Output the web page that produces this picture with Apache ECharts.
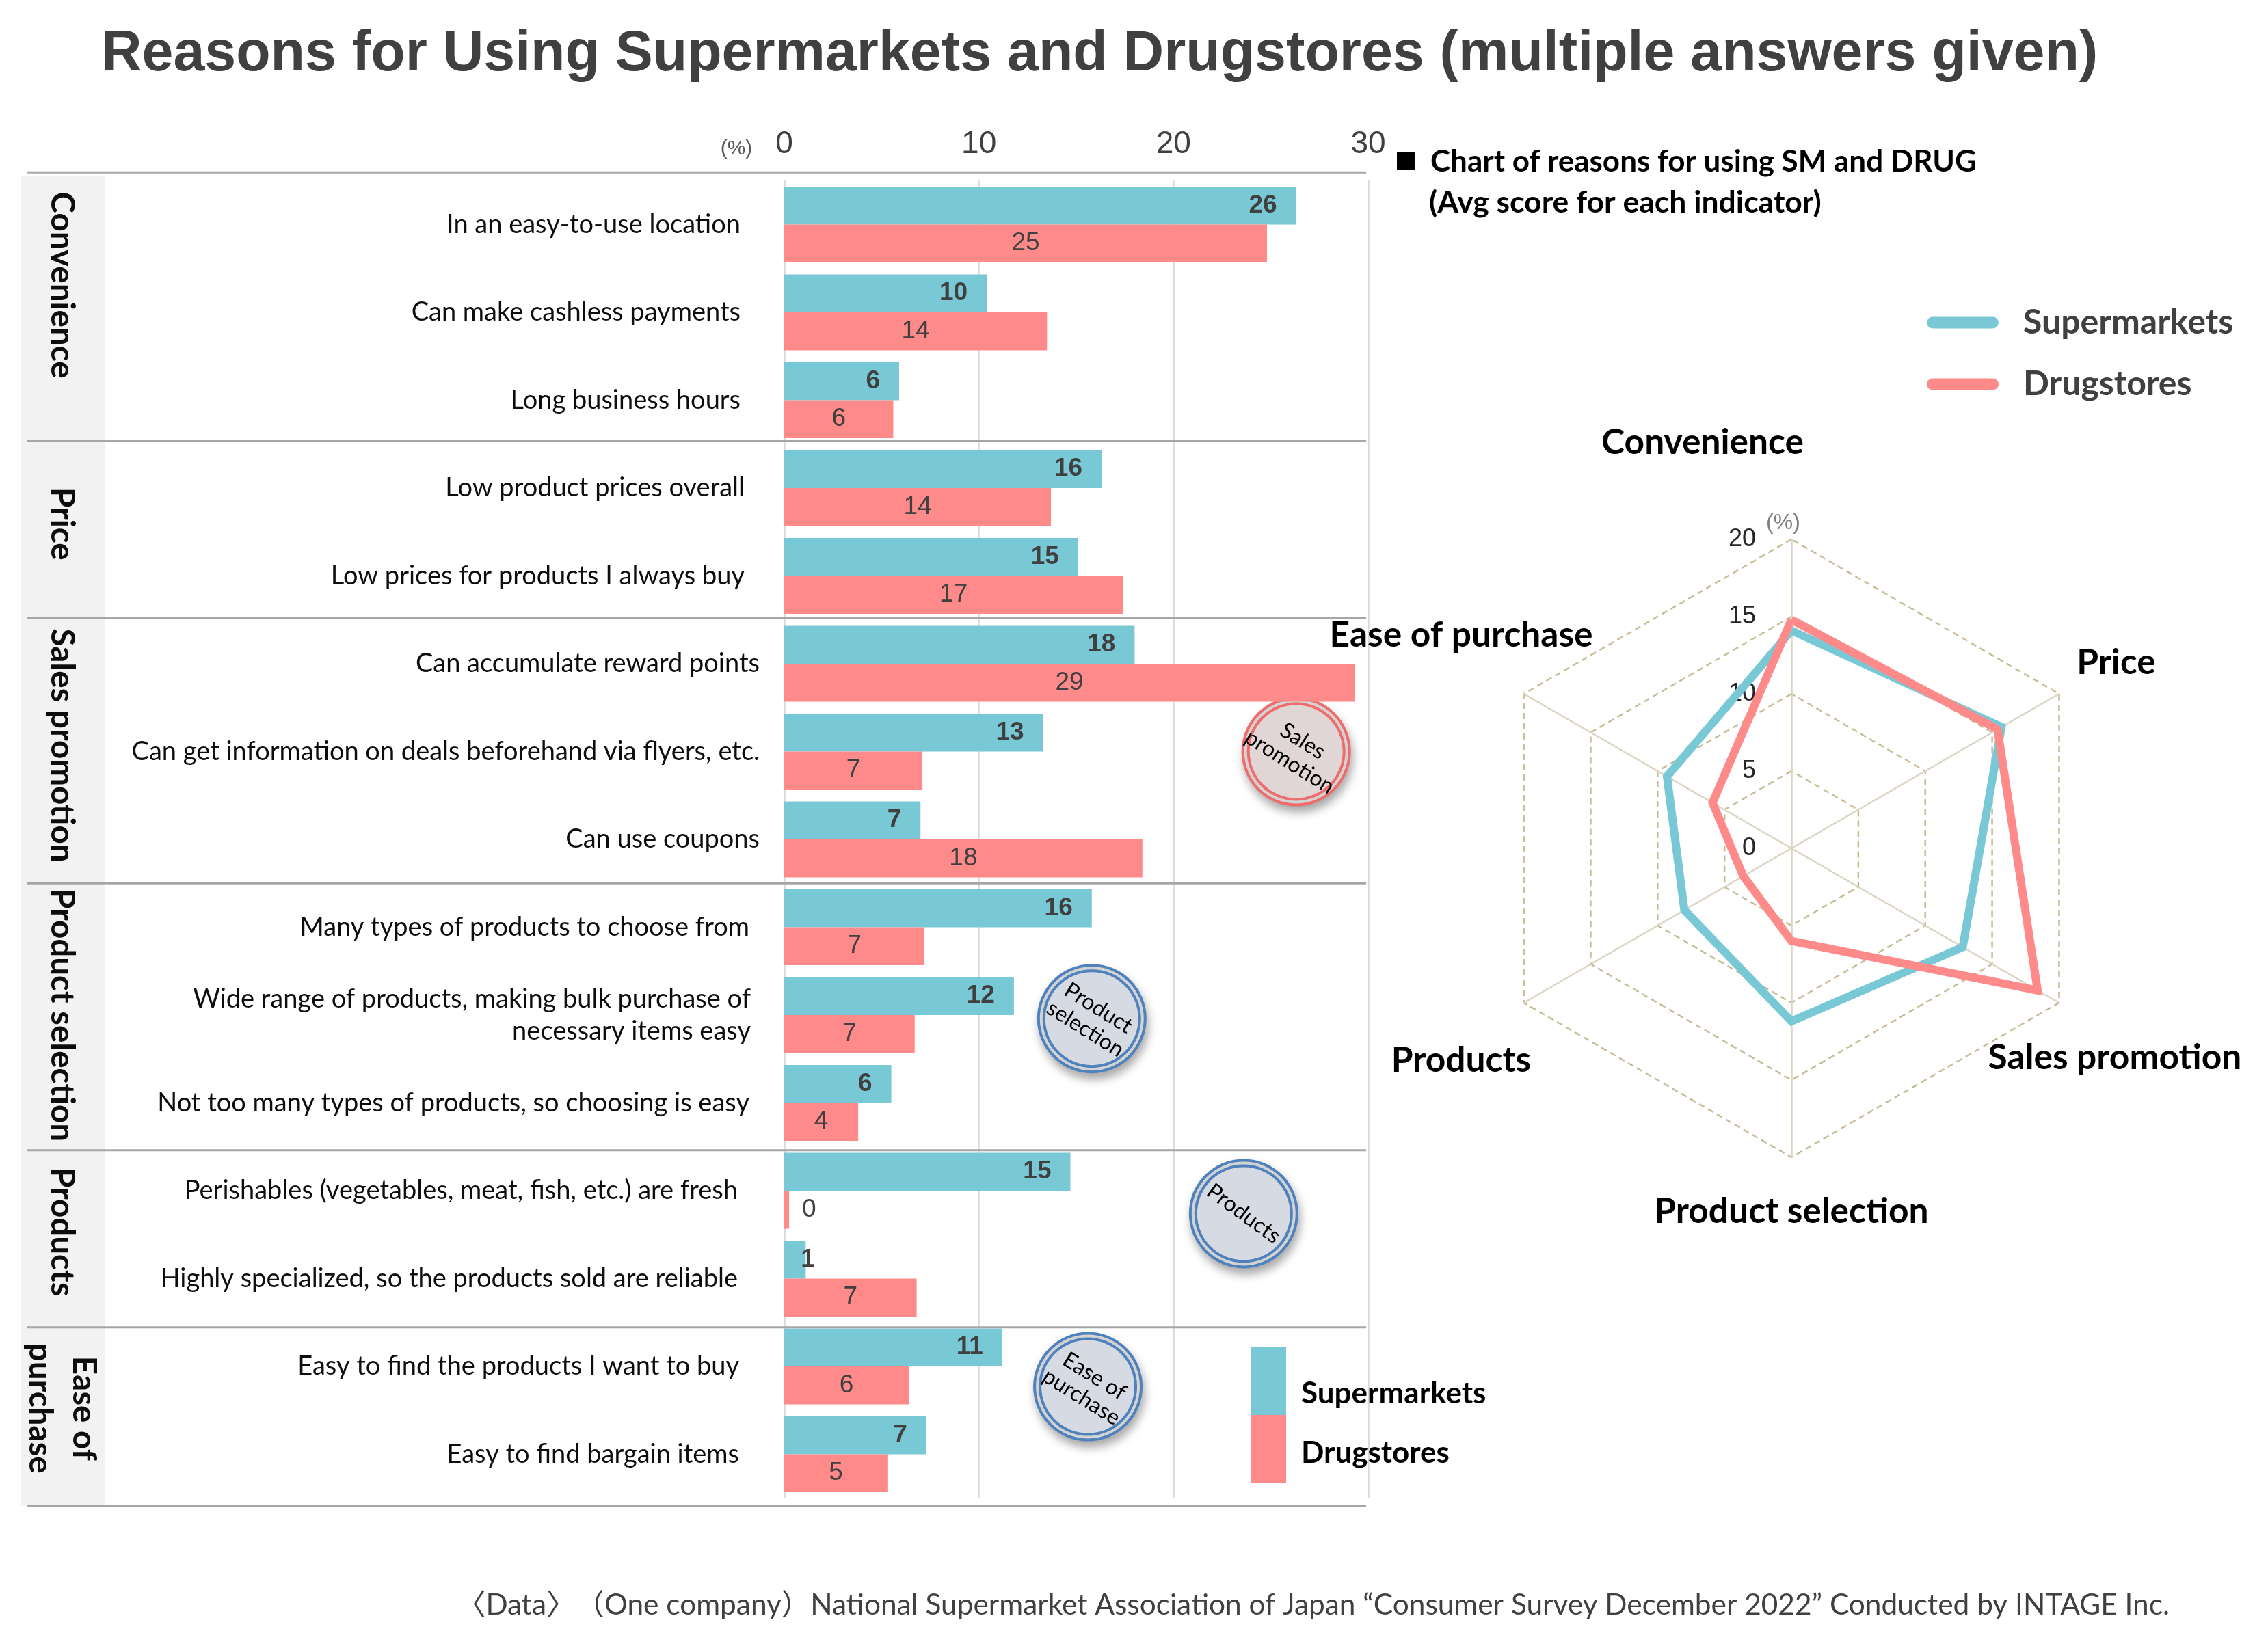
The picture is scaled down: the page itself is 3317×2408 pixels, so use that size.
<!DOCTYPE html>
<html>
<head>
<meta charset="utf-8">
<script src="https://cdn.jsdelivr.net/npm/echarts@6/dist/echarts.min.js"></script>
<style>html,body{margin:0;padding:0;background:#fff}#c{width:3317px;height:2408px}</style>
</head>
<body>
<div id="c"></div>
<script>
// ---------------- data ----------------
const categories = [
  'In an easy-to-use location',
  'Can make cashless payments',
  'Long business hours',
  'Low product prices overall',
  'Low prices for products I always buy',
  'Can accumulate reward points',
  'Can get information on deals beforehand via flyers, etc.',
  'Can use coupons',
  'Many types of products to choose from',
  'Wide range of products, making bulk purchase of\nnecessary items easy',
  'Not too many types of products, so choosing is easy',
  'Perishables (vegetables, meat, fish, etc.) are fresh',
  'Highly specialized, so the products sold are reliable',
  'Easy to find the products I want to buy',
  'Easy to find bargain items'
];
const groupNames = ['Convenience', 'Price', 'Sales promotion', 'Product selection', 'Products', 'Ease of\npurchase'];
const groupSizes = [3, 2, 3, 3, 2, 2];
const seriesNames = ['Supermarkets', 'Drugstores'];
const smValues   = [26.3, 10.4, 5.9, 16.3, 15.1, 18.0, 13.3, 7.0, 15.8, 11.8, 5.5, 14.7, 1.1, 11.2, 7.3];
const drugValues = [24.8, 13.5, 5.6, 13.7, 17.4, 29.3, 7.1, 18.4, 7.2, 6.7, 3.8, 0.25, 6.8, 6.4, 5.3];
const xAxisMax = 30, xAxisStep = 10;

const radarNames = ['Convenience', 'Price', 'Sales promotion', 'Product selection', 'Products', 'Ease of purchase'];
const radarSM   = [14.1, 15.7, 12.8, 11.2, 8.0, 9.3];
const radarDrug = [14.8, 15.4, 18.4, 6.0, 3.6, 5.9];
const radarMax = 20, radarSplits = 4;

const badgeTexts = ['Sales\npromotion', 'Product\nselection', 'Products', 'Ease of\npurchase'];

const titleText = 'Reasons for Using Supermarkets and Drugstores (multiple answers given)';
const radarTitle1 = 'Chart of reasons for using SM and DRUG';
const radarTitle2 = '(Avg score for each indicator)';
const sourceText = '〈Data〉　（One company）National Supermarket Association of Japan “Consumer Survey December 2022” Conducted by INTAGE Inc.';

// ---------------- style ----------------
const C_SM = '#78C8D6', C_DR = '#FF8A8A';
const LATO = "Lato, 'Noto Sans CJK JP', 'Noto Sans', sans-serif";
const ARIAL = "'Liberation Sans', Arial, sans-serif";
const NARROW = "'Liberation Sans Narrow', 'Liberation Sans', Arial, sans-serif";
const catPadRight = [28, 28, 28, 22, 22, 0, 0, 0, 15, 13, 15, 32, 32, 30, 30];
const sepAdjust = [-12, -5, -3, 0, 5, 7, 11];
const groupLabelShift = [-40, -12, -9, 0, -4, -3];
const RC = [2620, 1241], RR = 452;            // radar centre & radius
// radar name offsets from centre
const radarNameOff = [[-130, -594], [475, -272], [473, 306], [0, 531], [-483, 310], [-483, -312]];
// badges: [x value, category position, ring colour, fill, rotation deg]
const badgeStyle = [
  [26.3, 6.0, '#F06B6B', '#E0D6D6', -32],
  [15.8, 9.04, '#4F81BD', '#D5DAE3', -32],
  [23.6, 11.26, '#4F81BD', '#D5DAE3', -36],
  [15.6, 13.23, '#4F81BD', '#D5DAE3', -32]
];
// ECharts radar goes counter-clockwise; reorder so visual order is clockwise
const radarOrder = [0, 5, 4, 3, 2, 1];

const chart = echarts.init(document.getElementById('c'), null, {renderer: 'canvas', width: 3317, height: 2408});

function smLabel(v) {
  return v < 2 ? {position: 'right', distance: -7} : {};
}
function drLabel(v) {
  return v < 1 ? {position: 'right', distance: 19} : {};
}

const option = {
  backgroundColor: '#fff',
  animation: false,
  title: [{
    text: titleText, left: 148, top: 39, padding: 0,
    textStyle: {fontFamily: ARIAL, fontSize: 82.5, fontWeight: 'bold', color: '#404040'}
  }],
  legend: [{
    data: seriesNames, orient: 'vertical', left: 1825, top: 1966,
    itemWidth: 51, itemHeight: 99, itemGap: 0, icon: 'rect', selectedMode: false,
    formatter: name => (name === seriesNames[0] ? '{g1| }' : '{g2| }') + '\n' + name,
    textStyle: {fontFamily: LATO, fontSize: 44, fontWeight: 'bold', color: '#000', lineHeight: 46, padding: [0, 0, 0, 17],
      rich: {g1: {fontSize: 2, lineHeight: 36}, g2: {fontSize: 2, lineHeight: 12}}}
  }, {
    data: seriesNames, orient: 'vertical', left: 2813, top: 442,
    itemWidth: 105, itemHeight: 17, itemGap: 40, selectedMode: false,
    icon: 'path://M8.5,0 L96.5,0 A8.5,8.5 0 0 1 96.5,17 L8.5,17 A8.5,8.5 0 0 1 8.5,0 Z',
    textStyle: {fontFamily: LATO, fontSize: 50, fontWeight: 'bold', color: '#404040', lineHeight: 50, padding: [0, 0, 0, 31]}
  }],
  grid: {left: 1147, right: 1316, top: 264.25, bottom: 216.25, containLabel: false, outerBoundsMode: 'none'},
  xAxis: {
    type: 'value', position: 'top', min: 0, max: xAxisMax, interval: xAxisStep,
    axisLine: {show: false}, axisTick: {show: false},
    axisLabel: {margin: 30, fontSize: 46, color: '#404040', fontFamily: NARROW},
    splitLine: {show: true, lineStyle: {color: '#D9D9D9', width: 2.5}}
  },
  yAxis: {
    type: 'category', inverse: true,
    data: categories.map((c, i) => ({value: c, textStyle: {padding: [0, catPadRight[i], 0, 0]}})),
    axisLine: {show: false}, axisTick: {show: false}, splitLine: {show: false},
    axisLabel: {interval: 0, margin: 36, fontSize: 38, color: '#0D0D0D', fontFamily: LATO, lineHeight: 47}
  },
  radar: {
    center: RC, radius: RR, startAngle: 90, splitNumber: radarSplits, shape: 'polygon',
    indicator: radarOrder.map((k, j) => Object.assign({name: radarNames[k], min: 0, max: radarMax},
      j === 0 ? {axisLabel: {show: true}} : {})),
    axisName: {show: false},
    axisLine: {lineStyle: {color: '#DAD4C0', width: 2.5}},
    axisTick: {show: false},
    splitLine: {lineStyle: {color: '#C6BA92', width: 2.5, type: [9, 6]}},
    splitArea: {show: false},
    axisLabel: {show: false, margin: 52, fontSize: 36, color: '#262626', fontFamily: NARROW}
  },
  series: [{
    name: seriesNames[0], type: 'bar', barGap: 0, barCategoryGap: '13.62%',
    itemStyle: {color: C_SM},
    data: smValues.map(v => ({value: v, label: smLabel(v)})),
    label: {show: true, position: 'insideRight', distance: 28, formatter: p => Math.round(p.value),
      fontFamily: ARIAL, fontSize: 37, fontWeight: 'bold', color: '#404040'}
  }, {
    name: seriesNames[1], type: 'bar',
    itemStyle: {color: C_DR},
    data: drugValues.map(v => ({value: v, label: drLabel(v)})),
    label: {show: true, position: 'inside', formatter: p => Math.round(p.value),
      fontFamily: ARIAL, fontSize: 37, fontWeight: 'normal', color: '#404040'}
  }, {
    type: 'radar', symbol: 'none', z: 3,
    data: [
      {name: seriesNames[0], value: radarOrder.map(k => radarSM[k]),
       lineStyle: {color: C_SM, width: 12, join: 'miter'}, itemStyle: {color: C_SM}},
      {name: seriesNames[1], value: radarOrder.map(k => radarDrug[k]),
       lineStyle: {color: C_DR, width: 12, join: 'miter'}, itemStyle: {color: C_DR}}
    ]
  }]
};
chart.setOption(option);

// ---------------- decorations computed from the axes ----------------
const yc = i => chart.convertToPixel({yAxisIndex: 0}, i);
const xp = v => chart.convertToPixel({xAxisIndex: 0}, v);
const y0 = yc(0), band = yc(1) - yc(0);
const edgeY = k => y0 + (k - 0.5) * band;
const edges = [0];
groupSizes.forEach(s => edges.push(edges[edges.length - 1] + s));
const sepY = edges.map((k, g) => edgeY(k) + sepAdjust[g]);

const g = [];
// grey band behind group names
g.push({type: 'rect', shape: {x: 30, y: sepY[0] + 6, width: 123, height: sepY[sepY.length - 1] - sepY[0] - 6},
  style: {fill: '#F2F2F2'}, z: 0, silent: true});
// separators
sepY.forEach(y => g.push({type: 'line', shape: {x1: 40, y1: y, x2: 1998, y2: y},
  style: {stroke: '#A6A6A6', lineWidth: 3}, z: 5, silent: true}));
// group names (rotated)
groupNames.forEach((name, i) => {
  const cy = (edgeY(edges[i]) + edgeY(edges[i + 1])) / 2 + groupLabelShift[i];
  g.push({type: 'text', x: 90, y: cy, rotation: -Math.PI / 2, z: 6, silent: true,
    style: {text: name, fill: '#0D0D0D', font: 'bold 47.5px ' + LATO, align: 'center', verticalAlign: 'middle', lineHeight: 64}});
});
// badges
badgeStyle.forEach((b, i) => {
  const cx = xp(b[0]), cy = y0 + b[1] * band;
  g.push({type: 'group', x: cx, y: cy, z: 10, silent: true, children: [
    {type: 'circle', shape: {cx: 0, cy: 0, r: 80}, style: {fill: b[2], shadowBlur: 14, shadowOffsetX: 3, shadowOffsetY: 9, shadowColor: 'rgba(0,0,0,0.35)'}},
    {type: 'circle', shape: {cx: 0, cy: 0, r: 76}, style: {fill: '#D3D3D3'}},
    {type: 'circle', shape: {cx: 0, cy: 0, r: 72}, style: {fill: b[2]}},
    {type: 'circle', shape: {cx: 0, cy: 0, r: 68}, style: {fill: b[3]}},
    {type: 'text', x: 0, y: 0, rotation: b[4] * Math.PI / 180,
     style: {text: badgeTexts[i], fill: '#000', font: '32px ' + LATO, align: 'center', verticalAlign: 'middle', lineHeight: 36}}
  ]});
});
// bar-axis unit
g.push({type: 'text', x: 1077, y: 218, silent: true,
  style: {text: '(%)', fill: '#595959', font: '30px ' + NARROW, align: 'center', verticalAlign: 'middle'}});
// radar names
radarNames.forEach((n, i) => {
  g.push({type: 'text', x: RC[0] + radarNameOff[i][0], y: RC[1] + radarNameOff[i][1], silent: true,
    style: {text: n, fill: '#000', font: 'bold 51.5px ' + LATO, align: 'center', verticalAlign: 'middle'}});
});
g.push({type: 'text', x: RC[0] - 12, y: RC[1] - 476, silent: true,
  style: {text: '(%)', fill: '#808080', font: '32px ' + NARROW, align: 'center', verticalAlign: 'middle'}});
// radar heading
g.push({type: 'rect', shape: {x: 2043, y: 223, width: 26, height: 26}, style: {fill: '#000'}, silent: true});
g.push({type: 'text', x: 2092, y: 237, silent: true,
  style: {text: radarTitle1, fill: '#000', font: 'bold 44px ' + LATO, align: 'left', verticalAlign: 'middle'}});
g.push({type: 'text', x: 2090, y: 297, silent: true,
  style: {text: radarTitle2, fill: '#000', font: 'bold 44.5px ' + LATO, align: 'left', verticalAlign: 'middle'}});
// source
g.push({type: 'text', x: 3173, y: 2348, silent: true,
  style: {text: sourceText, fill: '#404040', font: '42.4px ' + LATO, align: 'right', verticalAlign: 'middle'}});

chart.setOption({graphic: g});
</script>
</body>
</html>
